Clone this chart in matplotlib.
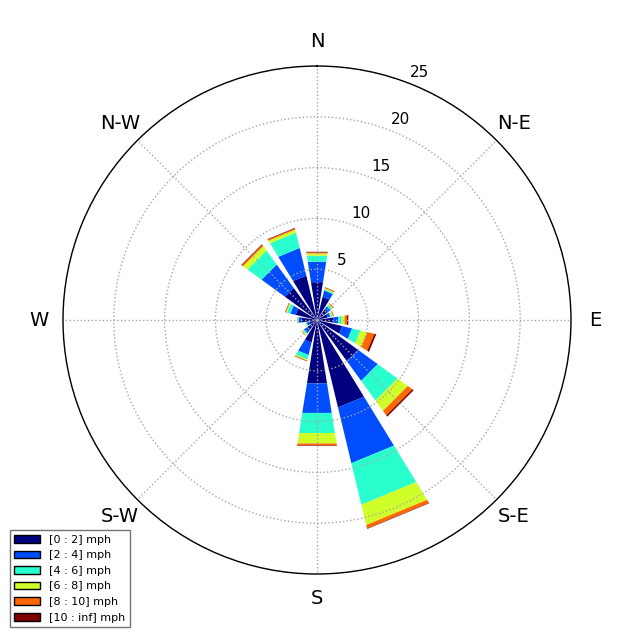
import numpy as np
import matplotlib
matplotlib.use('Agg')
import matplotlib.pyplot as plt
from matplotlib.patches import Patch, Polygon

# 16 compass sectors, clockwise from north
directions = ['N', 'NNE', 'NE', 'ENE', 'E', 'ESE', 'SE', 'SSE',
              'S', 'SSW', 'SW', 'WSW', 'W', 'WNW', 'NW', 'NNW']
angles_deg = np.arange(0, 360, 22.5)

# frequency (%) of each speed bin per sector
bin_labels = ['[0 : 2] mph', '[2 : 4] mph', '[4 : 6] mph',
              '[6 : 8] mph', '[8 : 10] mph', '[10 : inf] mph']
spd_0_2 = [3.77, 2.35, 1.30, 1.10, 1.60, 2.55, 5.00, 8.85,
           6.30, 2.30, 1.20, 0.80, 1.50, 2.17, 3.90, 4.50]
spd_2_4 = [2.03, 0.65, 0.37, 0.25, 0.50, 1.01, 2.40, 5.65,
           2.96, 1.25, 0.40, 0.25, 0.30, 0.53, 2.85, 2.80]
spd_4_6 = [0.60, 0.12, 0.18, 0.15, 0.35, 0.84, 2.40, 4.20,
           2.00, 0.45, 0.15, 0.10, 0.10, 0.35, 1.70, 1.55]
spd_6_8 = [0.23, 0.10, 0.12, 0.12, 0.30, 0.70, 1.25, 2.05,
           1.04, 0.10, 0.10, 0.05, 0.05, 0.10, 0.55, 0.30]
spd_8_10 = [0.10, 0.08, 0.08, 0.08, 0.23, 0.70, 0.55, 0.35,
            0.20, 0.08, 0.05, 0.02, 0.05, 0.07, 0.15, 0.12]
spd_10_inf = [0.07, 0.03, 0.02, 0.02, 0.14, 0.20, 0.16, 0.05,
              0.05, 0.02, 0.00, 0.00, 0.00, 0.03, 0.07, 0.06]
all_bins = [spd_0_2, spd_2_4, spd_4_6, spd_6_8, spd_8_10, spd_10_inf]

r_ticks = [5, 10, 15, 20, 25]
compass_labels = ['N', 'N-E', 'E', 'S-E', 'S', 'S-W', 'W', 'N-W']

colors = [plt.cm.jet(i / 5.0) for i in range(6)]

fig = plt.figure(figsize=(6.35, 6.4), dpi=100)
ax = fig.add_axes([0.0992, 0.1031, 0.8, 0.79375], projection='polar')
ax.set_theta_zero_location('N')
ax.set_theta_direction(-1)

theta = np.radians(angles_deg)
width = np.radians(22.5) * 0.8
offset = np.zeros(len(directions))
# stacked sectors with straight outer edges (old windrose look)
for vals, c in zip(all_bins, colors):
    for t, b, h in zip(theta, offset, vals):
        if h <= 0:
            continue
        t0, t1 = t - width / 2, t + width / 2
        poly = Polygon([(t0, b), (t1, b), (t1, b + h), (t0, b + h)],
                       closed=True, facecolor=c, edgecolor='none',
                       linewidth=0)
        ax.add_patch(poly)
    offset += np.array(vals)

ax.set_ylim(0, 25)
ax.set_thetagrids(range(0, 360, 45), labels=compass_labels, fontsize=14)
ax.tick_params(axis='x', pad=7)
ax.set_yticks(r_ticks)
ax.set_yticklabels([])
for r in r_ticks:
    ax.text(np.radians(22.5), r + 1.35, str(r), ha='center', va='center',
            fontsize=11)
ax.grid(True, color='0.65', linestyle=':', linewidth=1)
ax.spines['polar'].set_linewidth(1)

handles = [Patch(facecolor=c, edgecolor='black', label=l)
           for c, l in zip(colors, bin_labels)]
leg = fig.legend(handles=handles, loc='lower left',
                 bbox_to_anchor=(0.0157, 0.0203), fontsize=8,
                 fancybox=False, framealpha=1, borderaxespad=0,
                 handlelength=2.3, labelspacing=0.5, borderpad=0.4)
leg.get_frame().set_edgecolor('0.45')

fig.savefig('out.png', dpi=100)
